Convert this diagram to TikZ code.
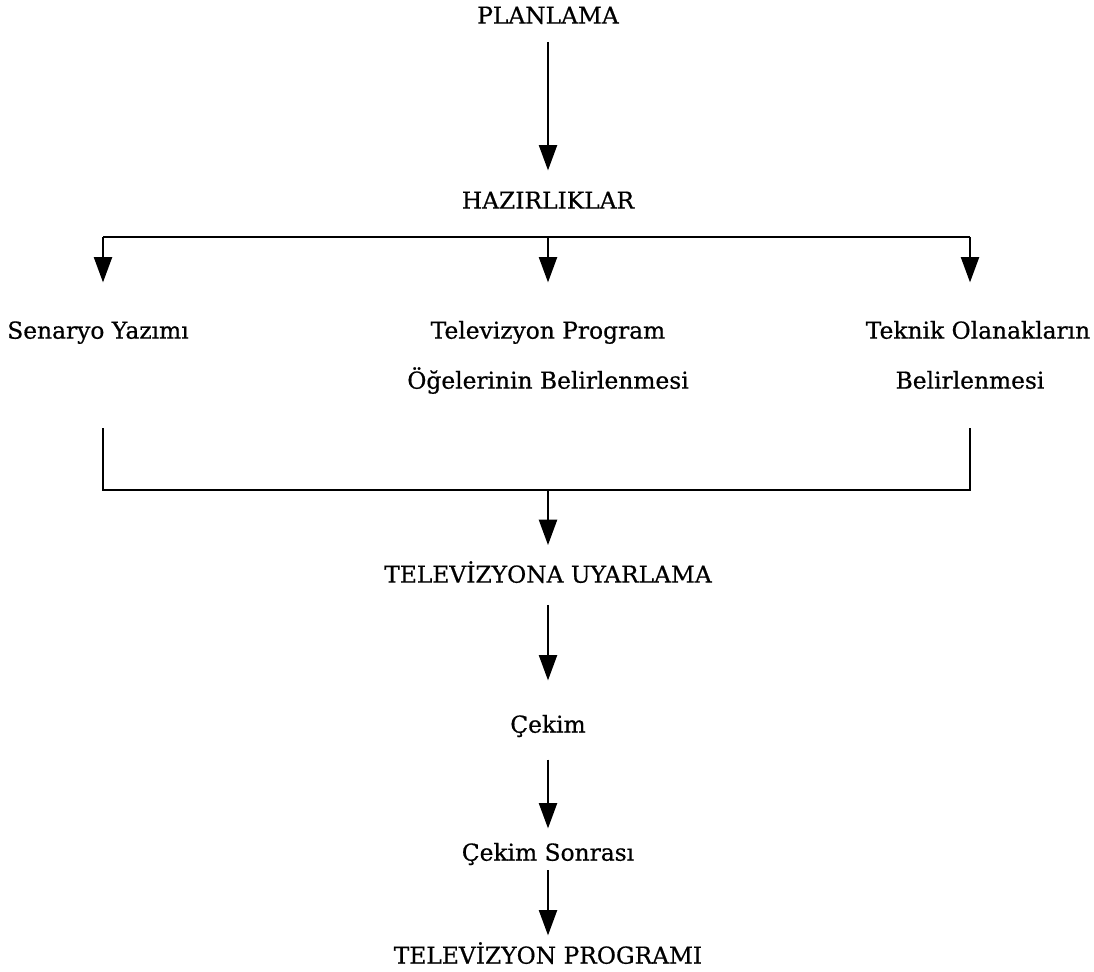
\documentclass[tikz,border=0pt]{standalone}
\usepackage{fontspec}
\setmainfont{DejaVu Serif}[FakeBold=0.6]
\usepackage{tikz}
\usetikzlibrary{arrows.meta}

\tikzset{
  lbl/.style={inner sep=0pt, text height=13pt, text depth=0pt, font=\fontsize{17.5}{21}\selectfont},
  arr/.style={line width=1.7pt, -{Triangle[length=19pt,width=13.5pt]}},
  bar/.style={line width=1.7pt},
}

\begin{document}
\begin{tikzpicture}[x=0.75pt,y=0.75pt,yscale=-1]
\useasboundingbox (0,0) rectangle (1094,971);

% Text Nodes
\node [lbl] (plan) at (548,15) {PLANLAMA};
\node [lbl] (haz) at (548,200) {HAZIRLIKLAR};
\node [lbl] (sen) at (98,330) {Senaryo Yazımı};
\node [lbl] (tv1) at (548,330) {Televizyon Program};
\node [lbl] (tv2) at (548,380) {Öğelerinin Belirlenmesi};
\node [lbl] (tek1) at (978,330) {Teknik Olanakların};
\node [lbl] (tek2) at (970,380) {Belirlenmesi};
\node [lbl] (uyar) at (548,574) {TELEVİZYONA UYARLAMA};
\node [lbl] (cek) at (548,724) {Çekim};
\node [lbl] (sonra) at (548,852) {Çekim Sonrası};
\node [lbl] (prog) at (548,955) {TELEVİZYON PROGRAMI};

% Branch coordinates
\coordinate (barL) at (103,237);
\coordinate (barM) at (548,237);
\coordinate (barR) at (970,237);
\coordinate (legL) at (103,428);
\coordinate (legR) at (970,428);
\coordinate (lowL) at (103,490);
\coordinate (lowM) at (548,490);
\coordinate (lowR) at (970,490);

% Arrows
\draw [arr, shorten <=13.5pt, shorten >=15.5pt] (plan) -- (haz);
\draw [bar] (barL) -- (barR);
\draw [arr, shorten >=29pt] (barL) -- (barL |- sen.north);
\draw [arr, shorten >=29pt] (barM) -- (tv1);
\draw [arr, shorten >=29pt] (barR) -- (barR |- tek1.north);
\draw [bar] (legL) -- (lowL) -- (lowR) -- (legR);
\draw [arr, shorten >=15pt] (lowM) -- (uyar);
\draw [arr, shorten <=16.5pt, shorten >=26pt] (uyar) -- (cek);
\draw [arr, shorten <=20pt, shorten >=11pt] (cek) -- (sonra);
\draw [arr, shorten <=7pt, shorten >=8pt] (sonra) -- (prog);

\end{tikzpicture}
\end{document}
